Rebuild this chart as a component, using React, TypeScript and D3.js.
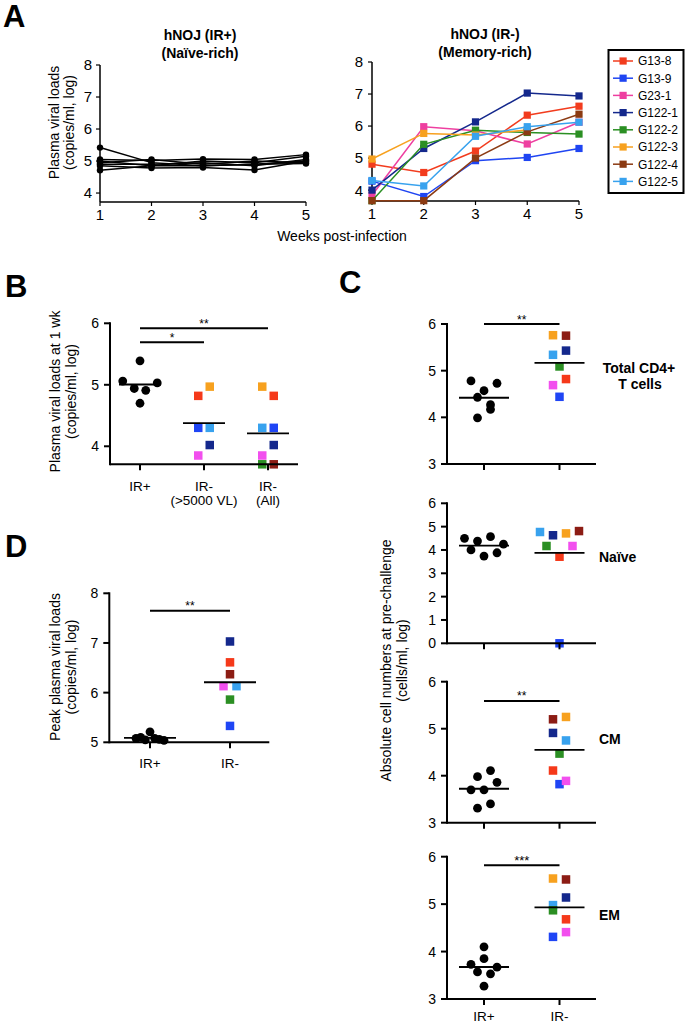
import React from "react";
import * as d3 from "d3";

const FONT = "'Liberation Sans', Arial, Helvetica, sans-serif";

// ---------- shared ----------
const mice = ["G13-8", "G13-9", "G23-1", "G122-1", "G122-2", "G122-3", "G122-4", "G122-5"];
const lineColors = ["#f23c1e", "#1f45f2", "#ee3fa0", "#14288c", "#2b8f23", "#f7a11f", "#8b3a12", "#38a2ee"];
const dotColors = ["#f5391a", "#1f45f5", "#f24fee", "#14288c", "#2b8f23", "#f7a11f", "#8c1c14", "#38a2ee"];

// ---------- Panel A ----------
const weeks = [1, 2, 3, 4, 5];
const aTicksY = [4, 5, 6, 7, 8];
const irPlusCurves: number[][] = [
  [5.42, 4.95, 4.85, 4.9, 5.0],
  [5.05, 5.02, 5.06, 5.05, 5.2],
  [5.0, 4.85, 5.0, 4.95, 5.15],
  [4.95, 5.05, 4.9, 5.0, 4.95],
  [4.9, 4.9, 4.95, 4.85, 5.05],
  [4.85, 4.78, 4.8, 4.72, 5.0],
  [4.71, 4.85, 4.85, 4.9, 4.92],
];
const irMinusCurves: (number | null)[][] = [
  [4.81, 4.55, 5.22, 6.34, 6.62],
  [4.28, 3.8, 4.92, 5.02, 5.3],
  [3.84, 5.98, 5.85, 5.44, 6.12],
  [4.0, 5.3, 6.13, 7.03, 6.94],
  [3.67, 5.43, 5.87, 5.8, 5.75],
  [4.97, 5.77, 5.72, 5.88, null],
  [3.67, 3.67, 5.0, 5.82, 6.37],
  [4.3, 4.13, 5.68, 5.98, 6.12],
];

// ---------- Panel B ----------
const bLabels = [["IR+"], ["IR-", "(>5000 VL)"], ["IR-", "(All)"]];
const bTicks = [4, 5, 6];
const bIRplus = [5.39, 5.06, 4.94, 4.91, 5.03, 4.7];
const bHighIds = ["G13-8", "G122-3", "G13-9", "G122-5", "G23-1", "G122-1"];
const bHighVals = [4.82, 4.97, 4.3, 4.3, 3.85, 4.02];
const bAllIds = ["G122-3", "G13-8", "G122-5", "G13-9", "G23-1", "G122-1", "G122-2", "G122-4"];
const bAllVals = [4.97, 4.82, 4.3, 4.3, 3.85, 4.02, 3.7, 3.7];
const bSig = [
  { from: 0, to: 2, label: "**", level: 5.92 },
  { from: 0, to: 1, label: "*", level: 5.69 },
];

// ---------- Panel C ----------
const cLabels = [["IR+"], ["IR-"]];
const cTicks = [3, 4, 5, 6];
const cNaiveTicks = [0, 1, 2, 3, 4, 5, 6];
const cTotalPlus = [4.78, 4.57, 4.73, 4.43, 4.27, 3.99, 4.17];
const cTotalIds = ["G122-3", "G122-4", "G122-5", "G122-1", "G122-2", "G23-1", "G13-8", "G13-9"];
const cTotalVals = [5.76, 5.75, 5.34, 5.43, 5.09, 4.69, 4.82, 4.44];
const cTotalSig = [{ from: 0, to: 1, label: "**", level: 6.0 }];
const cNaivePlus = [4.5, 4.38, 4.57, 4.25, 4.0, 3.74, 3.88];
const cNaiveIds = ["G122-5", "G122-1", "G122-3", "G122-4", "G122-2", "G13-8", "G23-1", "G13-9"];
const cNaiveVals = [4.77, 4.63, 4.71, 4.81, 4.17, 3.71, 4.17, 0];
const cCMPlus = [3.98, 4.11, 3.7, 3.7, 3.86, 3.31, 3.4];
const cCMIds = ["G122-4", "G122-3", "G122-1", "G122-5", "G122-2", "G13-8", "G13-9", "G23-1"];
const cCMVals = [5.2, 5.25, 4.91, 4.75, 4.47, 4.11, 3.82, 3.89];
const cCMSig = [{ from: 0, to: 1, label: "**", level: 5.59 }];
const cEMPlus = [4.1, 3.73, 3.85, 3.67, 3.57, 3.53, 3.27];
const cEMIds = ["G122-3", "G122-4", "G122-5", "G122-1", "G122-2", "G13-8", "G13-9", "G23-1"];
const cEMVals = [5.54, 5.52, 4.98, 5.14, 4.87, 4.68, 4.31, 4.41];
const cEMSig = [{ from: 0, to: 1, label: "***", level: 5.82 }];

// ---------- Panel D ----------
const dTicks = [5, 6, 7, 8];
const dPlus = [5.08, 5.1, 5.05, 5.21, 5.08, 5.06, 5.04];
const dIds = ["G122-1", "G13-8", "G122-4", "G23-1", "G122-5", "G122-2", "G13-9"];
const dVals = [7.03, 6.61, 6.37, 6.13, 6.13, 5.86, 5.33];
const dSig = [{ from: 0, to: 1, label: "**", level: 7.65 }];

// ---------- helpers ----------
function swarm(vals: number[], ypx: (v: number) => number, binH: number, sp: number, maxW: number) {
  const order = vals.map((_, i) => i).sort((a, b) => ypx(vals[a]) - ypx(vals[b]));
  const off = new Array(vals.length).fill(0);
  let i = 0;
  while (i < order.length) {
    const start = ypx(vals[order[i]]);
    const bin = [order[i]];
    let j = i + 1;
    while (j < order.length && ypx(vals[order[j]]) - start < binH) {
      bin.push(order[j]);
      j++;
    }
    bin.sort((a, b) => a - b);
    const n = bin.length;
    const step = n > 1 ? Math.min(sp, maxW / (n - 1)) : 0;
    bin.forEach((idx, k) => (off[idx] = (k - (n - 1) / 2) * step));
    i = j;
  }
  return off;
}

type Group = { values: number[]; ids?: string[] };
type Sig = { from: number; to: number; label: string; level: number };

function Scatter(props: {
  yDomain: [number, number];
  yRange: [number, number];
  ticks: number[];
  axisX: [number, number];
  catRange: [number, number];
  groups: Group[];
  meanHalf: number;
  sp: number;
  maxRow: number;
  sig?: Sig[];
  xLabels?: string[][];
  xLabelBaseline?: number;
  sigFont?: number;
}) {
  const { yDomain, yRange, ticks, axisX, catRange, groups, meanHalf, sp, maxRow, sig, xLabels, xLabelBaseline } = props;
  const y = d3.scaleLinear().domain(yDomain).range(yRange);
  const x = d3.scalePoint<number>().domain(groups.map((_, i) => i)).range(catRange);
  const clamp = (v: number) => Math.max(v, yDomain[0]);
  const ypx = (v: number) => y(clamp(v));
  const axisY = yRange[0];
  const topY = y(d3.max(ticks) as number);
  return (
    <g>
      {groups.map((g, gi) => {
        const offs = swarm(g.values, ypx, 11.5, sp, maxRow);
        const cx = x(gi) as number;
        const m = y(d3.mean(g.values.map(clamp)) as number);
        return (
          <g key={gi}>
            {g.values.map((v, i) =>
              g.ids ? (
                <rect
                  key={i}
                  x={cx + offs[i] - 4.25}
                  y={ypx(v) - 4.25}
                  width={8.5}
                  height={8.5}
                  fill={dotColors[mice.indexOf(g.ids[i])]}
                />
              ) : (
                <circle key={i} cx={cx + offs[i]} cy={ypx(v)} r={4.4} fill="#000" />
              )
            )}
            <line x1={cx - meanHalf} x2={cx + meanHalf} y1={m} y2={m} stroke="#000" strokeWidth={1.8} />
          </g>
        );
      })}
      <line x1={axisX[0]} x2={axisX[0]} y1={topY - 1} y2={axisY + 1} stroke="#000" strokeWidth={2} />
      <line x1={axisX[0]} x2={axisX[1]} y1={axisY} y2={axisY} stroke="#000" strokeWidth={2} />
      {ticks.map((t) => (
        <g key={t}>
          <line x1={axisX[0] - 6} x2={axisX[0]} y1={y(t)} y2={y(t)} stroke="#000" strokeWidth={2} />
          <text x={axisX[0] - 11} y={y(t)} dy="0.36em" textAnchor="end" fontSize={14}>
            {t}
          </text>
        </g>
      ))}
      {groups.map((_, i) => (
        <line key={i} x1={x(i)} x2={x(i)} y1={axisY} y2={axisY + 6} stroke="#000" strokeWidth={2} />
      ))}
      {(sig || []).map((s, i) => {
        const x1 = x(s.from) as number;
        const x2 = x(s.to) as number;
        const yy = y(s.level);
        return (
          <g key={i}>
            <line x1={x1} x2={x2} y1={yy} y2={yy} stroke="#000" strokeWidth={2} />
            <text x={(x1 + x2) / 2} y={yy - 0.5} textAnchor="middle" fontSize={props.sigFont || 12}>
              {s.label}
            </text>
          </g>
        );
      })}
      {xLabels &&
        xLabels.map((lines, i) =>
          lines.map((l, k) => (
            <text
              key={`${i}-${k}`}
              x={x(i)}
              y={(xLabelBaseline as number) + k * 14}
              textAnchor="middle"
              fontSize={13.5}
            >
              {l}
            </text>
          ))
        )}
    </g>
  );
}

function RotLabel({ x1, x2, cy, l1, l2 }: { x1: number; x2: number; cy: number; l1: string; l2: string }) {
  return (
    <g fontSize={14}>
      <text transform={`translate(${x1},${cy}) rotate(-90)`} textAnchor="middle">
        {l1}
      </text>
      <text transform={`translate(${x2},${cy}) rotate(-90)`} textAnchor="middle">
        {l2}
      </text>
    </g>
  );
}

// ---------- Panel A ----------
function PanelA() {
  const xL = d3.scaleLinear().domain([1, 5]).range([100, 306]);
  const yL = d3.scaleLinear().domain([3.72, 8]).range([202, 65]);
  const xR = d3.scaleLinear().domain([1, 5]).range([372, 579]);
  const yR = d3.scaleLinear().domain([3.66, 8]).range([201, 62]);
  const lineL = d3
    .line<number>()
    .x((_, i) => xL(weeks[i]))
    .y((v) => yL(v));
  const lineR = d3
    .line<number | null>()
    .defined((v) => v != null)
    .x((_, i) => xR(weeks[i]))
    .y((v) => yR(Math.max(v as number, 3.66)));

  const axes = (x: d3.ScaleLinear<number, number>, y: d3.ScaleLinear<number, number>, lblGap: number, xBase: number) => {
    const x0 = x.range()[0];
    const x1 = x.range()[1];
    const yb = y.range()[0];
    return (
      <g>
        <line x1={x0} x2={x0} y1={y(8)} y2={yb} stroke="#000" strokeWidth={1.5} />
        <line x1={x0} x2={x1} y1={yb} y2={yb} stroke="#000" strokeWidth={1.5} />
        {aTicksY.map((t) => (
          <g key={t}>
            <line x1={x0 - 4} x2={x0} y1={y(t)} y2={y(t)} stroke="#000" strokeWidth={1.2} />
            <text x={x0 - lblGap} y={y(t)} dy="0.36em" textAnchor="end" fontSize={15}>
              {t}
            </text>
          </g>
        ))}
        {weeks.map((w) => (
          <g key={w}>
            <line x1={x(w)} x2={x(w)} y1={yb} y2={yb + 4} stroke="#000" strokeWidth={1.2} />
            <text x={x(w)} y={xBase} textAnchor="middle" fontSize={15}>
              {w}
            </text>
          </g>
        ))}
      </g>
    );
  };

  return (
    <g>
      <text x={3} y={27} fontSize={31} fontWeight="bold">
        A
      </text>
      <g fontWeight="bold" fontSize={14} textAnchor="middle">
        <text x={200} y={39.5}>hNOJ (IR+)</text>
        <text x={200} y={57.5}>(Naïve-rich)</text>
        <text x={485} y={38.5}>hNOJ (IR-)</text>
        <text x={485} y={57}>(Memory-rich)</text>
      </g>
      <RotLabel x1={59} x2={74} cy={122.5} l1="Plasma viral loads" l2="(copies/ml, log)" />
      {axes(xL, yL, 8, 219.5)}
      {axes(xR, yR, 9, 218.5)}
      {irPlusCurves.map((c, i) => (
        <g key={i}>
          <path d={lineL(c) || ""} fill="none" stroke="#000" strokeWidth={1.5} />
          {c.map((v, j) => (
            <circle key={j} cx={xL(weeks[j])} cy={yL(v)} r={3.2} fill="#000" />
          ))}
        </g>
      ))}
      {irMinusCurves.map((c, i) => (
        <g key={i}>
          <path d={lineR(c) || ""} fill="none" stroke={lineColors[i]} strokeWidth={1.5} />
          {c.map((v, j) =>
            v == null ? null : (
              <rect
                key={j}
                x={xR(weeks[j]) - 3.6}
                y={yR(Math.max(v, 3.66)) - 3.6}
                width={7.2}
                height={7.2}
                fill={lineColors[i]}
              />
            )
          )}
        </g>
      ))}
      <text x={342} y={241} textAnchor="middle" fontSize={14}>
        Weeks post-infection
      </text>
      <rect x={608.5} y={50} width={75} height={143} fill="#fff" stroke="#000" strokeWidth={2} />
      {mice.map((m, i) => {
        const yy = 61 + i * 17.2;
        return (
          <g key={m}>
            <line x1={613} x2={633} y1={yy} y2={yy} stroke={lineColors[i]} strokeWidth={1.5} />
            <rect x={619.5} y={yy - 3.6} width={7.2} height={7.2} fill={lineColors[i]} />
            <text x={638} y={yy} dy="0.36em" fontSize={12}>
              {m}
            </text>
          </g>
        );
      })}
    </g>
  );
}

function PanelB() {
  return (
    <g>
      <text x={5} y={297} fontSize={31} fontWeight="bold">
        B
      </text>
      <RotLabel x1={60} x2={76} cy={391.5} l1="Plasma viral loads at 1 wk" l2="(copies/ml, log)" />
      <Scatter
        yDomain={[3.707, 6]}
        yRange={[464.3, 323.3]}
        ticks={bTicks}
        axisX={[110, 298]}
        catRange={[140, 268]}
        groups={[{ values: bIRplus }, { values: bHighVals, ids: bHighIds }, { values: bAllVals, ids: bAllIds }]}
        meanHalf={21}
        sp={11.5}
        maxRow={40}
        sig={bSig}
        xLabels={bLabels}
        xLabelBaseline={491}
      />
    </g>
  );
}

function PanelC() {
  const common = {
    axisX: [447, 596] as [number, number],
    catRange: [484, 559.5] as [number, number],
    meanHalf: 25,
    sp: 13,
    maxRow: 40,
  };
  return (
    <g>
      <text x={339} y={293} fontSize={31} fontWeight="bold">
        C
      </text>
      <RotLabel
        x1={391}
        x2={407}
        cy={660.5}
        l1="Absolute cell numbers at pre-challenge"
        l2="(cells/ml, log)"
      />
      <Scatter
        {...common}
        yDomain={[3, 6]}
        yRange={[464, 324]}
        ticks={cTicks}
        groups={[{ values: cTotalPlus }, { values: cTotalVals, ids: cTotalIds }]}
        sig={cTotalSig}
      />
      <Scatter
        {...common}
        yDomain={[0, 6]}
        yRange={[643.3, 503.3]}
        ticks={cNaiveTicks}
        groups={[{ values: cNaivePlus }, { values: cNaiveVals, ids: cNaiveIds }]}
      />
      <Scatter
        {...common}
        yDomain={[3, 6]}
        yRange={[822.7, 681.7]}
        ticks={cTicks}
        groups={[{ values: cCMPlus }, { values: cCMVals, ids: cCMIds }]}
        sig={cCMSig}
      />
      <Scatter
        {...common}
        yDomain={[3, 6]}
        yRange={[999, 856.7]}
        ticks={cTicks}
        groups={[{ values: cEMPlus }, { values: cEMVals, ids: cEMIds }]}
        sig={cEMSig}
        sigFont={13}
        xLabels={cLabels}
        xLabelBaseline={1021}
      />
      <g fontWeight="bold" fontSize={14}>
        <text x={639} y={373} textAnchor="middle">
          Total CD4+
        </text>
        <text x={640} y={388.5} textAnchor="middle">
          T cells
        </text>
        <text x={599} y={561.5}>Naïve</text>
        <text x={599} y={744}>CM</text>
        <text x={599} y={920}>EM</text>
      </g>
    </g>
  );
}

function PanelD() {
  return (
    <g>
      <text x={5} y={557} fontSize={31} fontWeight="bold">
        D
      </text>
      <RotLabel x1={60} x2={76} cy={667} l1="Peak plasma viral loads" l2="(copies/ml, log)" />
      <Scatter
        yDomain={[5, 8]}
        yRange={[742.3, 593.3]}
        ticks={dTicks}
        axisX={[109.3, 269.3]}
        catRange={[150, 230]}
        groups={[{ values: dPlus }, { values: dVals, ids: dIds }]}
        meanHalf={26}
        sp={13}
        maxRow={28}
        sig={dSig}
        xLabels={cLabels}
        xLabelBaseline={768}
      />
    </g>
  );
}

export default function App() {
  return (
    <div style={{ position: "absolute", left: 0, top: 0 }}>
      <svg width={689} height={1025} style={{ display: "block", background: "#fff" }} fontFamily={FONT}>
        <PanelA />
        <PanelB />
        <PanelC />
        <PanelD />
      </svg>
    </div>
  );
}
